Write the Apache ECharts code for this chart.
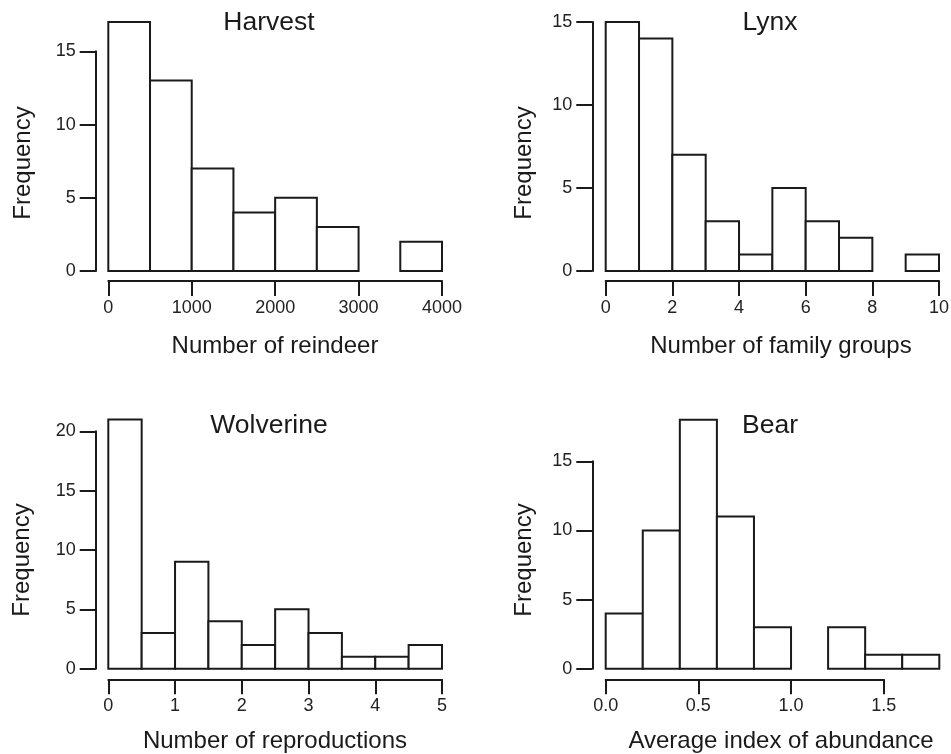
<!DOCTYPE html>
<html>
<head>
<meta charset="utf-8">
<script src="https://cdn.jsdelivr.net/npm/echarts@6/dist/echarts.min.js"></script>
<style>
html,body{margin:0;padding:0;background:#fff;}
#chart{width:951px;height:754px;}
</style>
</head>
<body>
<div id="chart"></div>
<script>
// ---- data ----
const harvestBreaks = [0, 500, 1000, 1500, 2000, 2500, 3000, 3500, 4000];
const harvestCounts = [17, 13, 7, 4, 5, 3, 0, 2];

const lynxBreaks = [0, 1, 2, 3, 4, 5, 6, 7, 8, 9, 10];
const lynxCounts = [15, 14, 7, 3, 1, 5, 3, 2, 0, 1];

const wolverineBreaks = [0, 0.5, 1, 1.5, 2, 2.5, 3, 3.5, 4, 4.5, 5];
const wolverineCounts = [21, 3, 9, 4, 2, 5, 3, 1, 1, 2];

const bearBreaks = [0, 0.2, 0.4, 0.6, 0.8, 1.0, 1.2, 1.4, 1.6, 1.8];
const bearCounts = [4, 10, 18, 11, 3, 0, 3, 1, 1];

const panelTitles = ['Harvest', 'Lynx', 'Wolverine', 'Bear'];
const xTitles = ['Number of reindeer', 'Number of family groups', 'Number of reproductions', 'Average index of abundance'];
const yTitle = 'Frequency';

// axis tick settings (value ranges)
const xTicks = [
  {min: 0, max: 4000, interval: 1000, dec: 0},
  {min: 0, max: 10, interval: 2, dec: 0},
  {min: 0, max: 5, interval: 1, dec: 0},
  {min: 0, max: 1.5, interval: 0.5, dec: 1}
];
const yTicks = [
  {min: 0, max: 15, interval: 5},
  {min: 0, max: 15, interval: 5},
  {min: 0, max: 20, interval: 5},
  {min: 0, max: 15, interval: 5}
];

const allBreaks = [harvestBreaks, lynxBreaks, wolverineBreaks, bearBreaks];
const allCounts = [harvestCounts, lynxCounts, wolverineCounts, bearCounts];

// ---- layout ----
const grids = [
  {left: 108.3, top: 51.3, width: 333.7, height: 219.7, yOff: 12.6, xOff: 10},
  {left: 605.7, top: 22, width: 333.3, height: 249, yOff: 13.4, xOff: 10},
  {left: 108.3, top: 431.3, width: 333.7, height: 237.4, yOff: 12.6, xOff: 10.6},
  {left: 605.7, top: 461.3, width: 278, height: 207.4, yOff: 13.4, xOff: 10.6}
];
const titlePos = [[269, 22.5], [770, 23], [269, 425.5], [770, 425.5]];
const xTitlePos = [[275, 346], [781, 346], [275, 741.5], [781, 741.5]];
const yTitlePos = [[23, 163], [524, 163], [22, 560], [524, 560]];

const INK = '#1a1a1a';
const FONT = '"Liberation Sans", Arial, Helvetica, sans-serif';

const chart = echarts.init(document.getElementById('chart'), null, {renderer: 'canvas'});

const option = {
  animation: false,
  backgroundColor: '#ffffff',
  grid: grids.map(g => ({left: g.left, top: g.top, width: g.width, height: g.height, containLabel: false, outerBoundsMode: 'none'})),
  xAxis: xTicks.map((t, i) => ({
    type: 'value', gridIndex: i, min: t.min, max: t.max, interval: t.interval,
    position: 'bottom', offset: grids[i].xOff,
    axisLine: {show: true, onZero: false, lineStyle: {color: INK, width: 2}},
    axisTick: {show: true, length: 15, lineStyle: {color: INK, width: 2}},
    axisLabel: {show: true, margin: 18, fontSize: 18, color: '#222', fontFamily: FONT,
      formatter: v => v.toFixed(t.dec)},
    splitLine: {show: false}
  })),
  yAxis: yTicks.map((t, i) => ({
    type: 'value', gridIndex: i, min: t.min, max: t.max, interval: t.interval,
    position: 'left', offset: grids[i].yOff,
    axisLine: {show: true, onZero: false, lineStyle: {color: INK, width: 2}},
    axisTick: {show: true, length: 16, lineStyle: {color: INK, width: 2}},
    axisLabel: {show: true, margin: 20, fontSize: 18, color: '#222', fontFamily: FONT},
    splitLine: {show: false}
  })),
  series: allBreaks.map((br, i) => ({
    type: 'custom',
    xAxisIndex: i, yAxisIndex: i,
    clip: false,
    encode: {x: [0, 1], y: 2},
    data: allCounts[i].map((c, k) => [br[k], br[k + 1], c]),
    renderItem: function (params, api) {
      const c = api.value(2);
      if (!c) return null;
      const p0 = api.coord([api.value(0), 0]);
      const p1 = api.coord([api.value(1), c]);
      return {
        type: 'rect',
        shape: {x: p0[0], y: p1[1], width: p1[0] - p0[0], height: p0[1] - p1[1]},
        style: {fill: '#ffffff', stroke: INK, lineWidth: 2}
      };
    }
  })),
  graphic: [].concat(
    panelTitles.map((t, i) => ({
      type: 'text', x: titlePos[i][0], y: titlePos[i][1],
      style: {text: t, fontSize: 26.5, fontFamily: FONT, fill: INK, align: 'center', verticalAlign: 'middle'}
    })),
    xTitles.map((t, i) => ({
      type: 'text', x: xTitlePos[i][0], y: xTitlePos[i][1],
      style: {text: t, fontSize: 24, fontFamily: FONT, fill: INK, align: 'center', verticalAlign: 'middle'}
    })),
    yTitlePos.map(p => ({
      type: 'text', x: p[0], y: p[1], rotation: Math.PI / 2,
      style: {text: yTitle, fontSize: 24, fontFamily: FONT, fill: INK, align: 'center', verticalAlign: 'middle'}
    }))
  )
};
chart.setOption(option);
</script>
</body>
</html>
